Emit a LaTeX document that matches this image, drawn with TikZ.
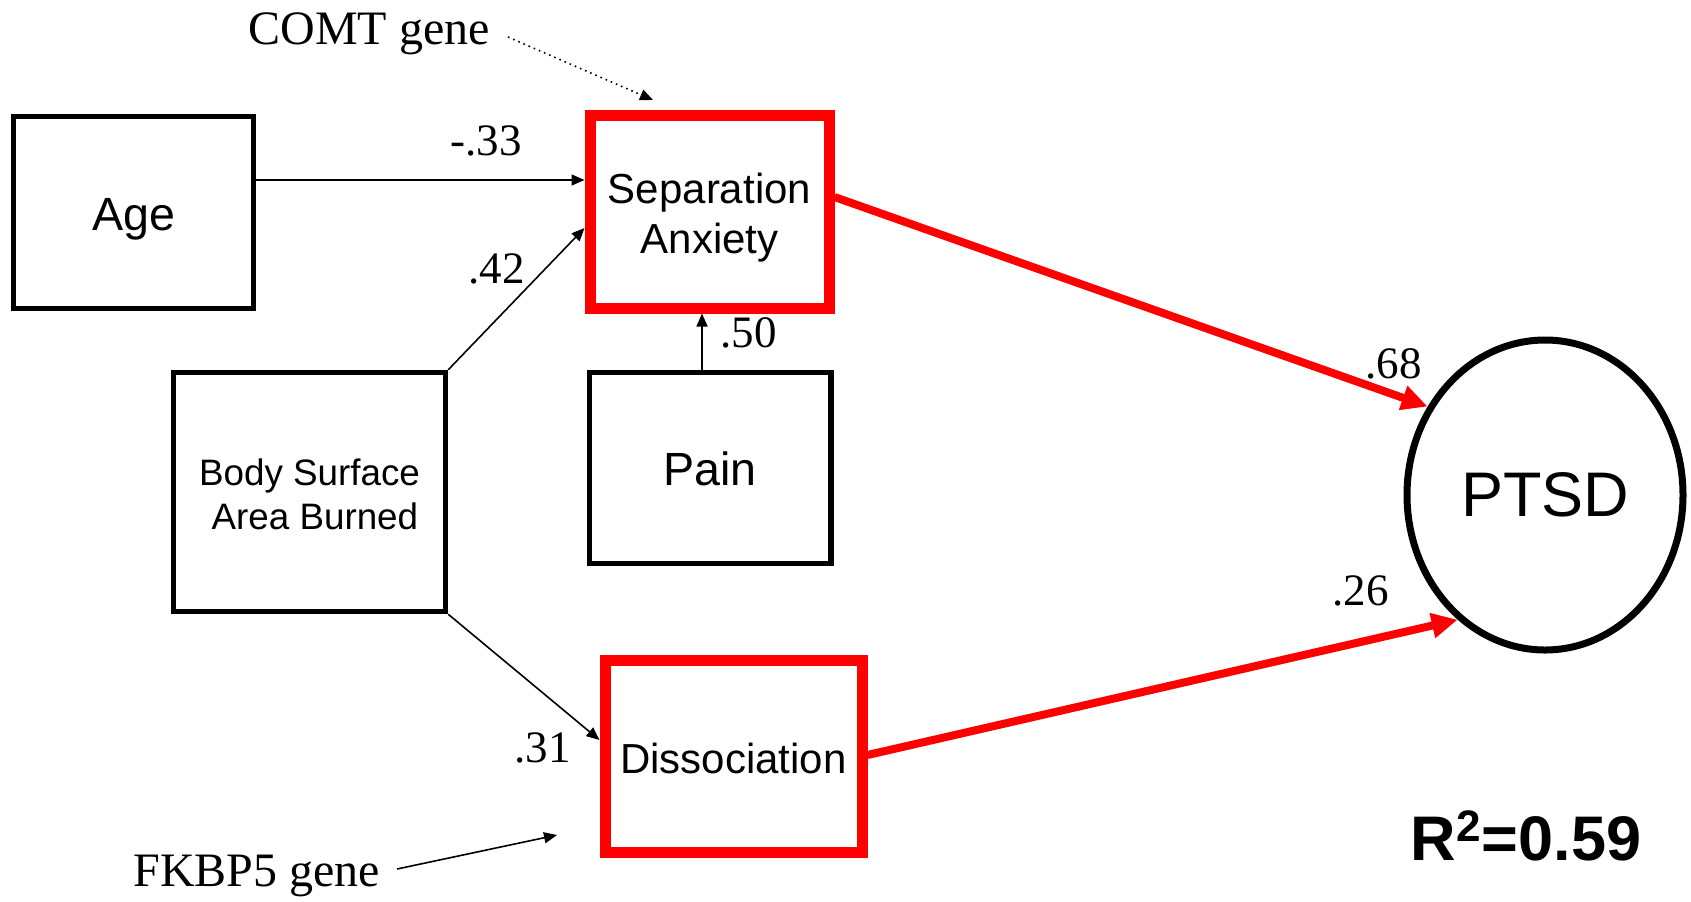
\documentclass[tikz,border=0pt]{standalone}
\usepackage{fontspec}
\setmainfont{Liberation Serif}
\newfontfamily\arialf{Liberation Sans}
\usetikzlibrary{arrows.meta,shapes.geometric}
\newcommand\twolines[2]{\begin{tabular}{@{}c@{}}#1\\#2\end{tabular}}
\newcommand\lowerby[2]{\raisebox{-#1}[\height][\depth]{#2}}
\begin{document}
\begin{tikzpicture}[x=0.5pt,y=-0.5pt,
  blackbox/.style={draw=black, line width=2.75pt, rectangle, inner sep=0pt, align=center, font=\arialf\fontsize{23.3}{28}\selectfont},
  redbox/.style={draw=red, line width=5.5pt, rectangle, inner sep=0pt, align=center, font=\arialf\fontsize{21}{25.3}\selectfont},
  thinarrow/.style={draw=black, line width=0.8pt, -{Triangle[length=6.5pt,width=5.5pt]}},
  redarrow/.style={draw=red, line width=4pt, -{Triangle[length=13pt,width=12pt]}},
  coef/.style={font=\fontsize{22.5}{26}\selectfont, anchor=base west, inner sep=0pt},
  gene/.style={font=\fontsize{24}{28}\selectfont, anchor=base west, inner sep=0pt},
]
\useasboundingbox[fill=white] (0,0) rectangle (1691,901);

\node[blackbox, minimum width=120pt, minimum height=96pt] (age) at (133.5,212.5) {\lowerby{3.2pt}{Age}};
\node[redbox, minimum width=119.5pt, minimum height=96.5pt] (sep) at (709.5,211.5) {\lowerby{3.5pt}{\twolines{Separation}{Anxiety}}};
\node[blackbox, minimum width=136pt, minimum height=119.5pt, font=\arialf\fontsize{18.4}{21.8}\selectfont] (body) at (309.5,492) {\lowerby{3.5pt}{\twolines{Body Surface}{\hspace*{5.4pt}Area Burned}}};
\node[blackbox, minimum width=120.75pt, minimum height=95.5pt] (pain) at (710,468) {\lowerby{0.5pt}{Pain}};
\node[redbox, minimum width=128.5pt, minimum height=96pt] (diss) at (733.5,756) {\lowerby{1pt}{Dissociation}};
\node[draw=black, ellipse, line width=3.5pt, minimum width=138pt, minimum height=155pt, inner sep=0pt, font=\arialf\fontsize{31.5}{36}\selectfont] (ptsd) at (1545,495) {PTSD};

\draw[thinarrow] (age.east |- 0,180) -- (sep.west |- 0,180);
\draw[thinarrow] (body.north east) -- (sep.west |- 0,228);
\draw[thinarrow] (pain.north -| 702,0) -- (sep.south -| 702,0);
\draw[thinarrow] (body.south east) -- (diss.west |- 0,740);
\draw[redarrow] (sep.east |- 0,197) -- (ptsd.143);
\draw[redarrow] (diss.east |- 0,755) -- (ptsd.235);

\node[coef] (l33) at (450,155) {-.33};
\node[coef] (l42) at (468,283) {.42};
\node[coef] (l50) at (720,347) {.50};
\node[coef] (l68) at (1365,378) {.68};
\node[coef] (l26) at (1332,605) {.26};
\node[coef] (l31) at (514,762) {.31};

\node[gene] (comt) at (248,44) {COMT gene};
\node[gene] (fkbp) at (133,886) {FKBP5 gene};
\coordinate (cs) at (508,37);
\coordinate (ct) at (653,100);
\draw[thinarrow, dotted] (cs) -- (ct);
\coordinate (fs) at (397,869);
\coordinate (ft) at (557,835);
\draw[thinarrow] (fs) -- (ft);

\node[font=\arialf\bfseries\fontsize{31.5}{36}\selectfont, anchor=base, inner sep=0pt] (r2) at (1526,860) {R\textsuperscript{2}=0.59};
\end{tikzpicture}
\end{document}
